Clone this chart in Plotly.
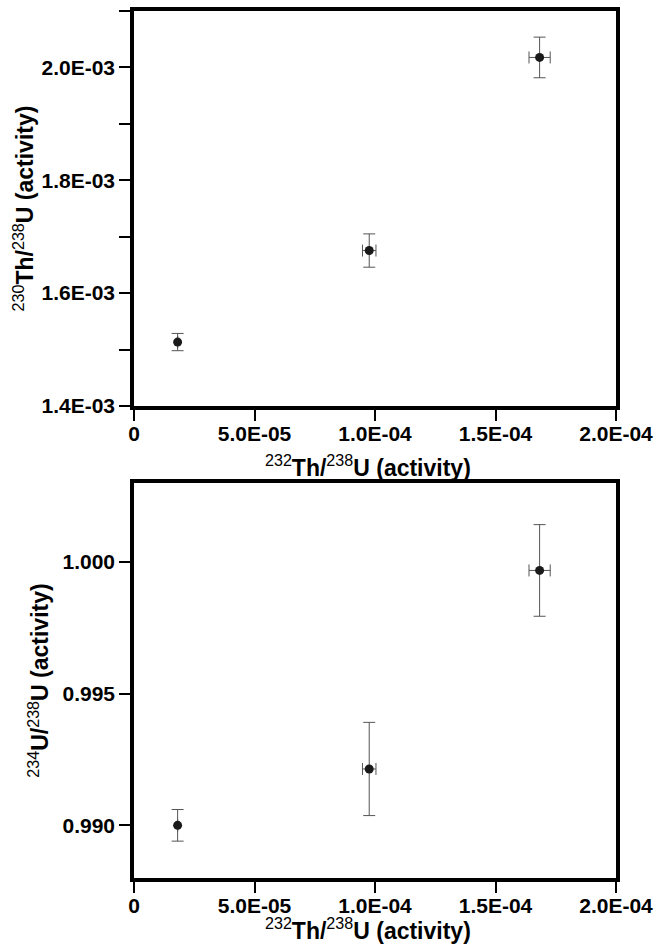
import plotly.graph_objects as go
from plotly.subplots import make_subplots

# Data
th232_u238 = [1.81e-5, 9.76e-5, 1.683e-4]
th232_err = [0.0, 2.8e-6, 4.4e-6]
th230_u238 = [1.5133e-3, 1.6755e-3, 2.0177e-3]
th230_err = [0.0153e-3, 0.0295e-3, 0.036e-3]
u234_u238 = [0.99000, 0.99214, 0.99968]
u234_err = [0.0006, 0.00177, 0.00174]

x_tickvals = [0, 5e-5, 1e-4, 1.5e-4, 2e-4]
x_ticktext = ["0", "5.0E-05", "1.0E-04", "1.5E-04", "2.0E-04"]
y1_tickvals = [1.4e-3, 1.6e-3, 1.8e-3, 2.0e-3]
y1_ticktext = ["1.4E-03", "1.6E-03", "1.8E-03", "2.0E-03"]
y2_tickvals = [0.990, 0.995, 1.000]
y2_ticktext = ["0.990", "0.995", "1.000"]

xtitle = "<sup>232</sup><b>Th/</b><sup>238</sup><b>U (activity)</b>"
y1title = "<sup>230</sup><b>Th/</b><sup>238</sup><b>U (activity)</b>"
y2title = "<sup>234</sup><b>U/</b><sup>238</sup><b>U (activity)</b>"

# body margin is removed by post_script, so the figure fills the window
W, H = 656, 945
ml, mt = 134, 11
mr = W - 616
mb = H - 878
ph = H - mt - mb
pw = W - ml - mr


def py(ref_px):
    """reference-pixel y -> paper y"""
    return (H - mb - ref_px) / ph


def px(ref_px):
    return (ref_px - ml) / pw


fig = make_subplots(rows=2, cols=1)

FONT = "Liberation Sans, Arial, Helvetica, sans-serif"
mk = dict(color="#1a1a1a", size=9)
eb = dict(color="#555555", thickness=1, width=6)

fig.add_trace(go.Scatter(
    x=th232_u238, y=th230_u238, mode="markers", marker=mk,
    error_x=dict(type="data", array=th232_err, **eb),
    error_y=dict(type="data", array=th230_err, **eb),
    showlegend=False), row=1, col=1)
fig.add_trace(go.Scatter(
    x=th232_u238, y=u234_u238, mode="markers", marker=mk,
    error_x=dict(type="data", array=th232_err, **eb),
    error_y=dict(type="data", array=u234_err, **eb),
    showlegend=False), row=2, col=1)

top_dom = [py(406), 1.0]
bot_dom = [0.0, py(483)]

axis_common = dict(
    showgrid=False, zeroline=False, showline=True, linewidth=3.5,
    linecolor="black", mirror=True, ticks="outside", ticklen=11,
    tickwidth=1.6, tickcolor="black", automargin=False,
    ticklabeloverflow="allow",
    tickfont=dict(family=FONT, size=21, color="black", weight="bold"),
)
XFONT = dict(family=FONT, size=23, color="black")
YFONT = dict(family=FONT, size=23, color="black")

fig.update_xaxes(**axis_common, range=[0, 2e-4], tickvals=x_tickvals,
                 ticktext=x_ticktext, ticklabelstandoff=-5)
fig.update_layout(
    xaxis=dict(domain=[0, 1]),
    xaxis2=dict(domain=[0, 1]),
    yaxis=dict(domain=top_dom),
    yaxis2=dict(domain=bot_dom),
)
fig.update_yaxes(**axis_common, row=1, col=1, range=[1.4e-3, 2.1e-3],
                 tickvals=y1_tickvals, ticktext=y1_ticktext,
                 minor=dict(ticks="outside", ticklen=11, tickwidth=1.6,
                            tickcolor="black", dtick=1e-4, tick0=1.4e-3),
                 title=dict(text=y1title, standoff=2, font=YFONT))
fig.update_yaxes(**axis_common, row=2, col=1, range=[0.988, 1.003],
                 tickvals=y2_tickvals, ticktext=y2_ticktext,
                 title=dict(text=y2title, standoff=8, font=YFONT))

for ycen in (466, 929):
    fig.add_annotation(text=xtitle, xref="paper", yref="paper",
                       x=px(367.5), y=py(ycen), xanchor="center",
                       yanchor="middle", showarrow=False, font=XFONT)

fig.update_layout(
    width=W, height=H,
    margin=dict(l=ml, r=mr, t=mt, b=mb, autoexpand=False),
    paper_bgcolor="white", plot_bgcolor="white",
    font=dict(family=FONT, color="black"),
)

fig.write_html(
    "out.html",
    config={"displayModeBar": False},
    post_script="document.body.style.margin='0px';"
                "document.body.style.overflow='hidden';",
)
